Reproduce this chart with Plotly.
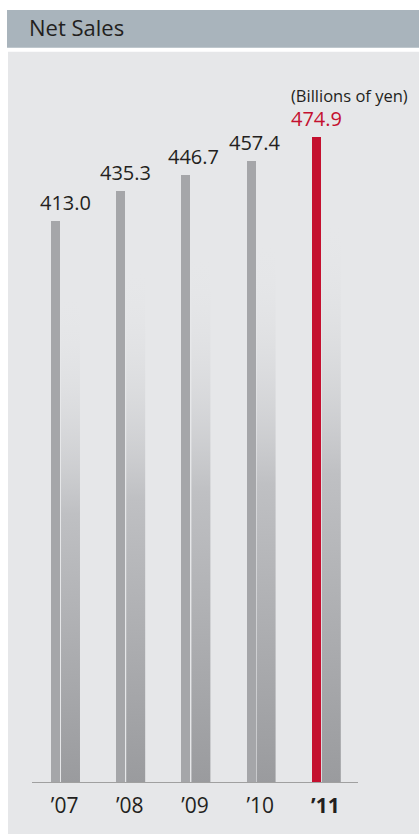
import plotly.graph_objects as go

# Данные
years = ["’07", "’08", "’09", "’10", "’11"]
net_sales = [413.0, 435.3, 446.7, 457.4, 474.9]
value_labels = ["413.0", "435.3", "446.7", "457.4", "474.9"]

# Цвета
GREY_BAR = "#a5a6a9"
RED_BAR = "#c4102f"
PANEL = "#e6e7e9"
HEADER = "#a9b4bc"
TEXT = "#231f20"

W, H = 419, 834
# пиксельные границы области графика
PX_L, PX_R, PX_T, PX_B = 32, 358, 103, 782
Y_MAX = 500


def px_x(p):
    return (p - PX_L) / (PX_R - PX_L)


def px_y(p):
    return (PX_B - p) / (PX_B - PX_T)


fig = go.Figure()

xs = list(range(len(years)))
colors = [GREY_BAR] * (len(years) - 1) + [RED_BAR]

# "тени" справа от столбцов с вертикальным градиентом
SH_L, SH_R, SH_K = -0.055, 0.236, 0.87
for x, v in zip(xs, net_sales):
    top = v * SH_K
    fig.add_trace(go.Scatter(
        x=[x + SH_L, x + SH_R, x + SH_R, x + SH_L, x + SH_L],
        y=[0, 0, top, top, 0],
        mode="lines",
        line=dict(width=0),
        fill="toself",
        fillgradient=dict(
            type="vertical",
            start=0,
            stop=top,
            colorscale=[[0, "#9a9b9e"], [0.55, "#bfc0c3"], [1, "rgba(230,231,233,0)"]],
        ),
        hoverinfo="skip",
        showlegend=False,
    ))

# основные столбцы
fig.add_trace(go.Bar(
    x=xs,
    y=net_sales,
    width=0.138,
    offset=-0.209,
    marker=dict(color=colors, line=dict(width=0)),
    hoverinfo="skip",
    showlegend=False,
))

# подписи значений
label_dx = [0.02, -0.06, -0.03, -0.08, -0.14]
for i, (v, t) in enumerate(zip(net_sales, value_labels)):
    last = i == len(net_sales) - 1
    fig.add_annotation(
        x=xs[i] + label_dx[i], y=v, text=t,
        xref="x", yref="y", xanchor="center", yanchor="bottom",
        yshift=3, showarrow=False,
        font=dict(size=20, color=RED_BAR if last else TEXT),
    )

fig.add_annotation(
    x=px_x(410), y=px_y(95), xref="paper", yref="paper",
    xanchor="right", yanchor="middle", showarrow=False,
    text="(Billions of yen)", font=dict(size=16.5, color=TEXT),
)

# фон: заголовочная плашка и светлая панель
fig.add_shape(type="rect", xref="paper", yref="paper", layer="below",
              x0=px_x(7), x1=px_x(W), y0=px_y(47.7), y1=px_y(10),
              fillcolor=HEADER, line=dict(width=0))
fig.add_shape(type="rect", xref="paper", yref="paper", layer="below",
              x0=px_x(8), x1=px_x(W), y0=px_y(H), y1=px_y(51.7),
              fillcolor=PANEL, line=dict(width=0))

ticktext = years[:-1] + ["<b>" + years[-1] + "</b>"]

fig.update_layout(
    width=W, height=H,
    margin=dict(l=PX_L, r=W - PX_R, t=PX_T, b=H - PX_B, pad=0),
    paper_bgcolor="white",
    plot_bgcolor="rgba(0,0,0,0)",
    font=dict(family="Open Sans, Noto Sans, sans-serif", color=TEXT),
    title=dict(
        text="Net Sales", x=29 / W, xanchor="left", xref="container",
        y=1 - 28 / H, yanchor="middle", yref="container",
        font=dict(size=22, color=TEXT),
    ),
    showlegend=False,
    bargap=0,
)

fig.update_xaxes(
    range=[-0.5, 4.5],
    tickvals=xs, ticktext=ticktext,
    tickfont=dict(size=21, color=TEXT),
    showgrid=False, zeroline=False,
    showline=True, linecolor="#a0a0a0", linewidth=1,
    ticks="", ticklabelstandoff=5,
    fixedrange=True,
)
fig.update_yaxes(
    range=[0, Y_MAX], visible=False, showgrid=False, zeroline=False,
    fixedrange=True,
)

fig.write_html(
    "out.html",
    config={"displayModeBar": False},
    post_script="document.body.style.margin='0';document.body.style.overflow='hidden';",
)
